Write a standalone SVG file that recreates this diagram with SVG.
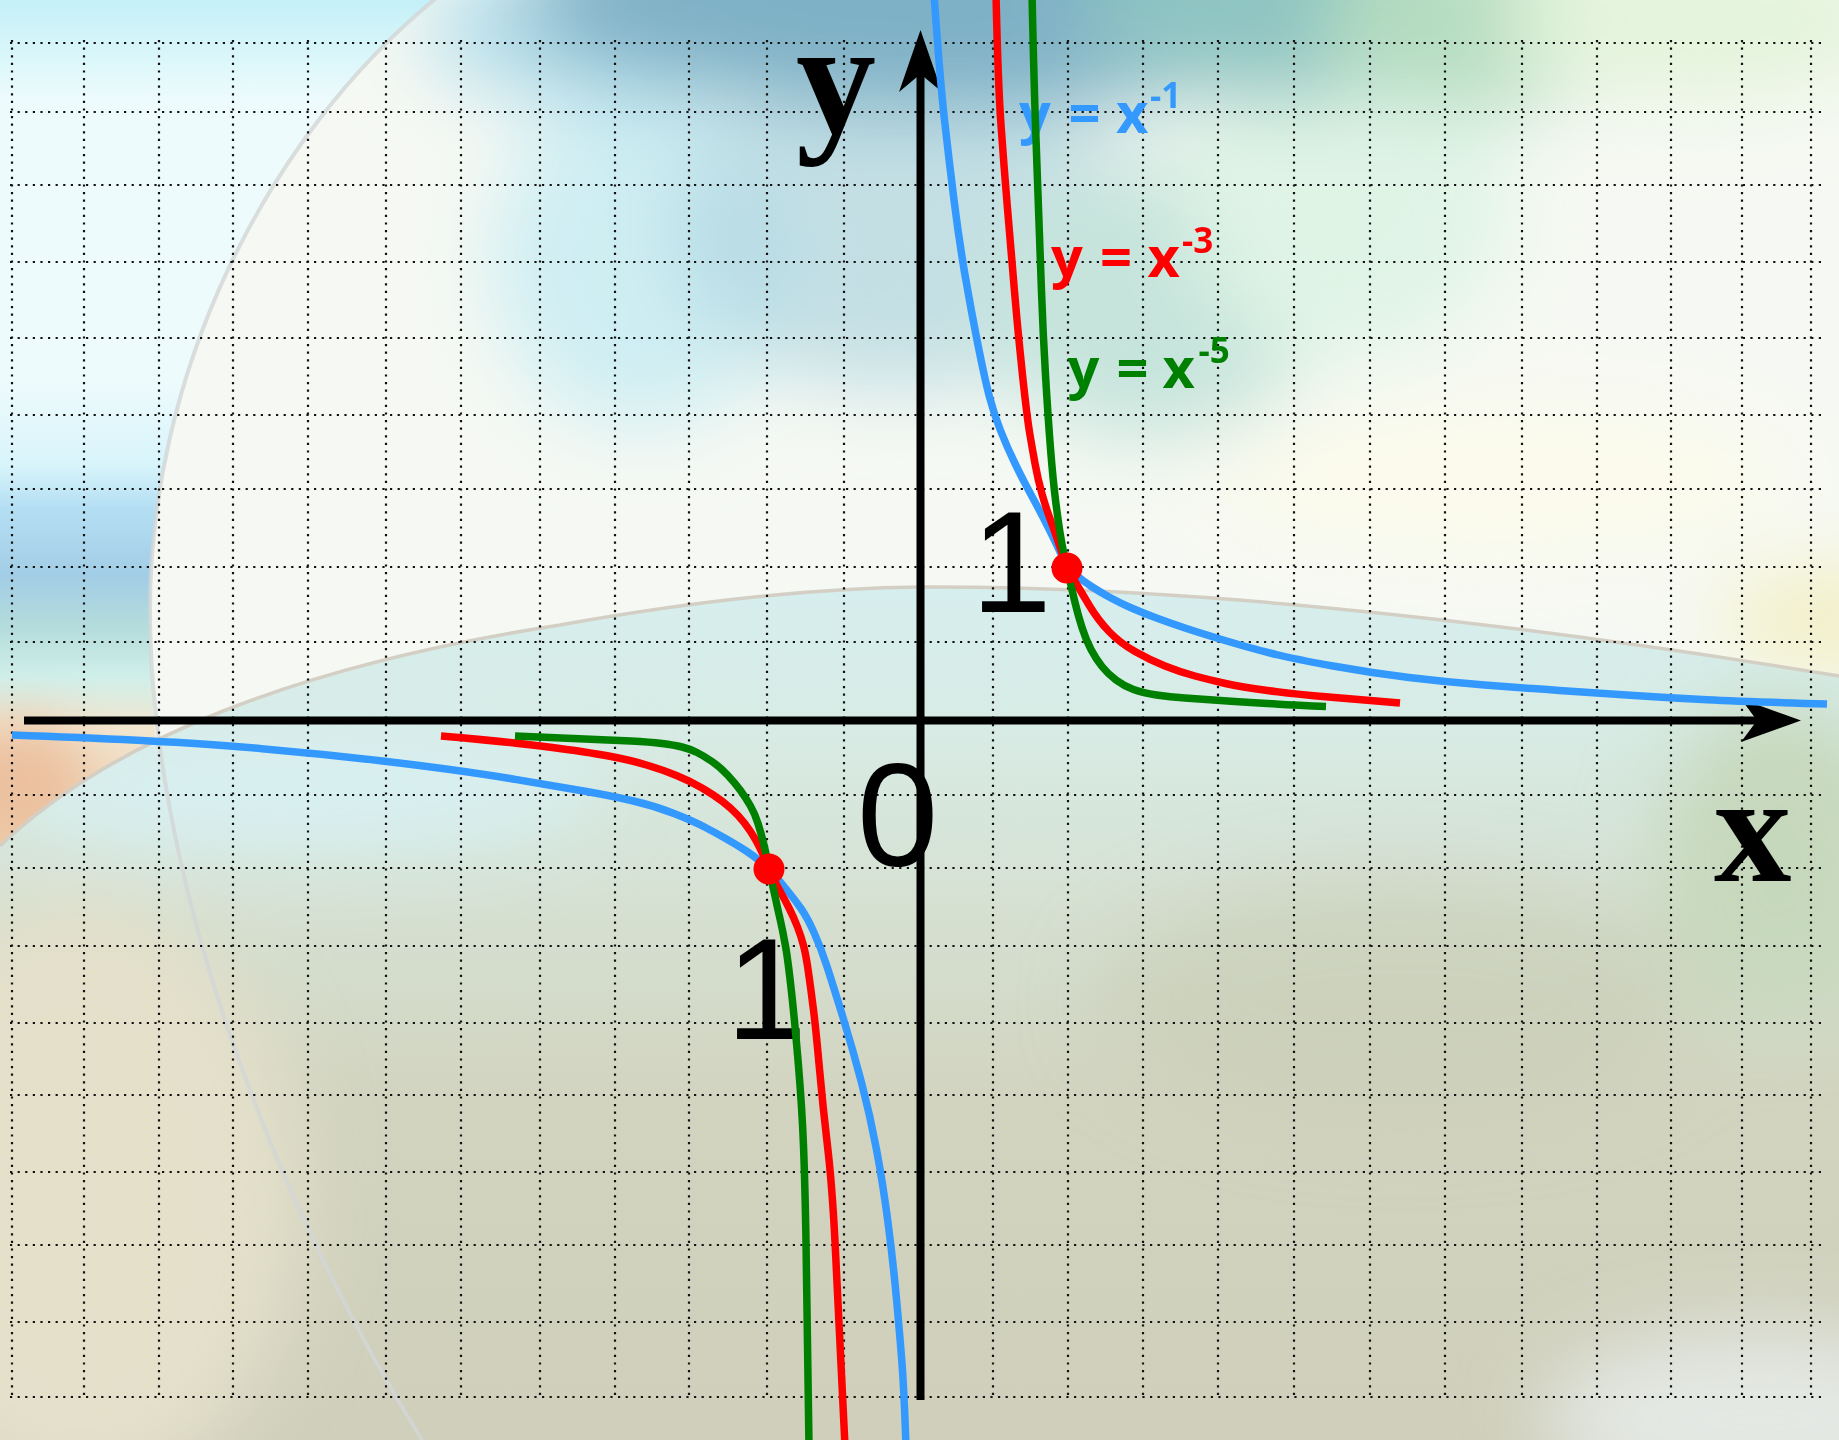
<svg xmlns="http://www.w3.org/2000/svg" width="1839" height="1440" viewBox="0 0 1839 1440">
<defs>
<style>
.grid{fill:none;stroke:#111;stroke-width:2.2;stroke-dasharray:2.2 5.4}
.axis{fill:none;stroke:#000;stroke-width:8}
.arrow{fill:#000}
.curve{fill:none;stroke-width:7.5;stroke-linejoin:round}
.blue{stroke:#3399ff}
.red{stroke:#ff0000}
.green{stroke:#008000}
.lbl{font-family:"Open Sans","Liberation Sans",sans-serif;font-weight:700;font-size:56px}
.sup{font-size:35px}
.big{font-family:"Liberation Serif","Times New Roman",serif;font-weight:700;fill:#000}
.num{font-family:"Liberation Sans",Arial,sans-serif;fill:#000}
.dot{fill:#ff0000}
</style>
<filter id="blur" x="-50%" y="-50%" width="200%" height="200%"><feGaussianBlur stdDeviation="40"/></filter>
<filter id="blur2" x="-50%" y="-50%" width="200%" height="200%"><feGaussianBlur stdDeviation="25"/></filter>
<linearGradient id="gOut" gradientUnits="userSpaceOnUse" x1="0" y1="0" x2="0" y2="846">
<stop offset="0" stop-color="#c4f0f8"/>
<stop offset="0.06" stop-color="#d8f6fa"/>
<stop offset="0.12" stop-color="#eefbfd"/>
<stop offset="0.45" stop-color="#eefbfd"/>
<stop offset="0.55" stop-color="#d8f4fb"/>
<stop offset="0.6" stop-color="#b4dff3"/>
<stop offset="0.68" stop-color="#a2cde6"/>
<stop offset="0.74" stop-color="#b4dcdc"/>
<stop offset="0.8" stop-color="#d0efe9"/>
<stop offset="0.86" stop-color="#f2e6d0"/>
<stop offset="1" stop-color="#eecfae"/>
</linearGradient>
<linearGradient id="gLow" gradientUnits="userSpaceOnUse" x1="0" y1="585" x2="0" y2="1440">
<stop offset="0" stop-color="#d6eeee"/>
<stop offset="0.15" stop-color="#d8ece6"/>
<stop offset="0.35" stop-color="#d6e2d4"/>
<stop offset="0.6" stop-color="#d2d4c0"/>
<stop offset="1" stop-color="#cfcfbb"/>
</linearGradient>
<clipPath id="clipLow"><path d="M0,846 C110,740 300,665 560,625 C700,600 820,588 920,587 C1150,586 1450,612 1839,676 L1839,1440 L0,1440 Z"/></clipPath>
<clipPath id="clipOut"><path d="M0,-5 L440,-5 C260,140 150,380 150,610 C150,660 152,700 156,742 Q70,785 0,846 Z"/></clipPath>
</defs>

<g id="background">
<rect x="0" y="0" width="1839" height="1440" fill="#f6f9f3"/>
<g filter="url(#blur)">
<ellipse cx="640" cy="260" rx="150" ry="170" fill="#cfeef3"/>
<ellipse cx="900" cy="230" rx="230" ry="160" fill="#aed4de" opacity="0.7"/>
<ellipse cx="1150" cy="300" rx="170" ry="140" fill="#c6e4dc"/>
<ellipse cx="1350" cy="200" rx="160" ry="160" fill="#e0f4e6"/>
<ellipse cx="620" cy="30" rx="200" ry="80" fill="#b8e0ec"/>
<ellipse cx="950" cy="0" rx="430" ry="110" fill="#7fb1c6"/>
<ellipse cx="1280" cy="0" rx="200" ry="100" fill="#8ec4c2"/>
<ellipse cx="1480" cy="20" rx="160" ry="90" fill="#b4dcc0"/>
<ellipse cx="1700" cy="20" rx="200" ry="80" fill="#e4f4dc"/>
<ellipse cx="1500" cy="480" rx="300" ry="80" fill="#fbfaec"/>
<ellipse cx="1839" cy="620" rx="120" ry="50" fill="#f2efc4"/>
</g>
<g clip-path="url(#clipOut)">
<rect x="0" y="0" width="460" height="850" fill="url(#gOut)"/>
<ellipse cx="20" cy="780" rx="70" ry="60" fill="#eab894" opacity="0.75" filter="url(#blur2)"/>
</g>
<g clip-path="url(#clipLow)">
<rect x="0" y="580" width="1839" height="860" fill="url(#gLow)"/>
<g filter="url(#blur)">
<ellipse cx="300" cy="790" rx="300" ry="60" fill="#d8f0f2"/>
<ellipse cx="80" cy="1200" rx="220" ry="300" fill="#e4e0ca"/>
<ellipse cx="1400" cy="1000" rx="300" ry="120" fill="#c8ccb4" opacity="0.6"/>
<ellipse cx="1780" cy="860" rx="120" ry="160" fill="#c6d8bc"/>
<ellipse cx="1760" cy="1420" rx="220" ry="90" fill="#e4e8e4"/>
</g>
</g>
<path d="M0,846 C110,740 300,665 560,625 C700,600 820,588 920,587 C1150,586 1450,612 1839,676" fill="none" stroke="#d4cfc4" stroke-width="3.5"/>
<path d="M440,-5 C260,140 150,380 150,610 C150,860 260,1180 425,1445" fill="none" stroke="#d2d6d6" stroke-width="4" opacity="0.8"/>
</g>

<g id="grid">
<path class="grid" d="M12,40V1397M84,40V1397M159,40V1397M233,40V1397M308,40V1397M386,40V1397M461,40V1397M540,40V1397M615,40V1397M689,40V1397M767,40V1397M844,40V1397M920,40V1397M993,40V1397M1068,40V1397M1143,40V1397M1218,40V1397M1294,40V1397M1370,40V1397M1445,40V1397M1522,40V1397M1597,40V1397M1671,40V1397M1742,40V1397M1811,40V1397"/>
<path class="grid" d="M10,43H1826M10,112H1826M10,185H1826M10,262H1826M10,338H1826M10,415H1826M10,489H1826M10,567H1826M10,642H1826M10,795H1826M10,868H1826M10,946H1826M10,1023H1826M10,1095H1826M10,1172H1826M10,1245H1826M10,1322H1826M10,1397H1826"/>
</g>

<g id="axes">
<path class="axis" d="M24,720.5H1758"/>
<polygon class="arrow" points="1801,720.5 1741,699 1757,720.5 1741,742"/>
<path class="axis" d="M920.5,1400V72"/>
<polygon class="arrow" points="920.5,30 899,92 920.5,74 942,92"/>
<text class="big" x="796" y="133" font-size="160">y</text>
<text class="big" x="1714" y="881" font-size="155">x</text>
</g>

<g id="numbers">
<text class="num" x="971" y="612" font-size="145">1</text>
<text class="num" x="726" y="1039" font-size="145">1</text>
<text class="num" x="857" y="866" font-size="146">0</text>
</g>

<g id="labels">
<text class="lbl" fill="#3399ff" y="133"><tspan x="1019">y </tspan><tspan x="1068.5">= </tspan><tspan x="1116">x</tspan><tspan class="sup" x="1150" y="108">-1</tspan></text>
<text class="lbl" fill="#ff0000" y="277"><tspan x="1051">y </tspan><tspan x="1100">= </tspan><tspan x="1147.5">x</tspan><tspan class="sup" x="1182" y="253">-3</tspan></text>
<text class="lbl" fill="#008000" y="388"><tspan x="1067.5">y </tspan><tspan x="1116.5">= </tspan><tspan x="1162.5">x</tspan><tspan class="sup" x="1198.5" y="363">-5</tspan></text>
</g>

<g id="curves">
<path class="curve blue" d="M934,-6 Q940,80 944.5,120 Q949,160 954,200 Q959,240 965,275 Q971,310 978,345 Q985,380 989.5,397 Q994,414 1000.5,430.5 Q1007,447 1015,463.5 Q1023,480 1032,496.5 Q1041,513 1048.5,528 Q1056,543 1061.5,555 Q1067,567 1075,574 Q1083,581 1091.5,586.5 Q1100,592 1110,597.5 Q1120,603 1131.5,608 Q1143,613 1156.5,618 Q1170,623 1185,628 Q1200,633 1225,640.5 Q1250,648 1272,653.5 Q1294,659 1333,666 Q1372,673 1409,677.5 Q1446,682 1484.5,685 Q1523,688 1559.5,690.5 Q1596,693 1634,695.5 Q1672,698 1707,699.75 Q1742,701.5 1827,704"/>
<path class="curve red" d="M996,-6 Q998,83 1001,125 Q1004,167 1007.5,208.5 Q1011,250 1014.5,291.5 Q1018,333 1022.5,375 Q1027,417 1029.5,432 Q1032,447 1035,463.5 Q1038,480 1042,494 Q1046,508 1050.5,520 Q1055,532 1058,541 Q1061,550 1064,559 Q1067,568 1073.5,579 Q1080,590 1089,605 Q1098,620 1109,631.5 Q1120,643 1135,651.5 Q1150,660 1165,666 Q1180,672 1195,676 Q1210,680 1225.5,683.5 Q1241,687 1267.5,690.5 Q1294,694 1328.5,697 Q1363,700 1400,703"/>
<path class="curve green" d="M1032,-6 Q1034,83 1035.5,125 Q1037,167 1038.5,208.5 Q1040,250 1041.5,291.5 Q1043,333 1045.5,375 Q1048,417 1050.5,448.5 Q1053,480 1055.5,500 Q1058,520 1060,532.5 Q1062,545 1064.5,556.5 Q1067,568 1069.5,579 Q1072,590 1075,602.5 Q1078,615 1082,627.5 Q1086,640 1091,649.5 Q1096,659 1102,666.5 Q1108,674 1116,680 Q1124,686 1133.5,689.5 Q1143,693 1156.5,695 Q1170,697 1185,698 Q1200,699 1220.5,700.5 Q1241,702 1267.5,703.5 Q1294,705 1326,706.5"/>
<path class="curve blue" d="M12,735 Q153,740 229.5,746 Q306,752 382.5,761 Q459,770 510,778.5 Q561,787 586.5,791.5 Q612,796 633.5,801 Q655,806 674,813.5 Q693,821 704.5,827 Q716,833 726.5,839 Q737,845 745.5,850.5 Q754,856 761.5,862.5 Q769,869 775.5,876.5 Q782,884 788.5,892 Q795,900 801,908.5 Q807,917 814,932.5 Q821,948 827,966.5 Q833,985 843,1017.5 Q853,1050 861.5,1082.5 Q870,1115 876.5,1149.5 Q883,1184 888,1222.5 Q893,1261 896.5,1299 Q900,1337 902,1363.5 Q904,1390 906,1446"/>
<path class="curve red" d="M441,736 Q510,742 548.5,747 Q587,752 608.5,756 Q630,760 646.5,765 Q663,770 676.5,775.5 Q690,781 702,788 Q714,795 722.5,801.5 Q731,808 738,815.5 Q745,823 750.5,831.5 Q756,840 759.5,847 Q763,854 766,861.5 Q769,869 772.5,876.5 Q776,884 780.5,892 Q785,900 789.5,909 Q794,918 797.5,927 Q801,936 803.5,945.5 Q806,955 808.5,972.5 Q811,990 813.5,1010 Q816,1030 819.5,1069 Q823,1108 827.5,1146 Q832,1184 835,1241.5 Q838,1299 845,1446"/>
<path class="curve green" d="M515,736 Q612,740 631,741 Q650,742 662,743.5 Q674,745 682,747 Q690,749 697,752.5 Q704,756 712,761.5 Q720,767 727.5,775 Q735,783 740.5,790.5 Q746,798 750.5,806 Q755,814 758,823.5 Q761,833 763.25,842 Q765.5,851 767.25,860 Q769,869 771,878 Q773,887 775.5,898.5 Q778,910 780.5,921 Q783,932 785.5,946 Q788,960 791.5,992 Q795,1024 798.5,1066 Q802,1108 803.5,1146 Q805,1184 806,1241.5 Q807,1299 809,1446"/>
</g>

<g id="points">
<circle class="dot" cx="1067" cy="568" r="15.5"/>
<circle class="dot" cx="769" cy="869" r="15.5"/>
</g>
</svg>
